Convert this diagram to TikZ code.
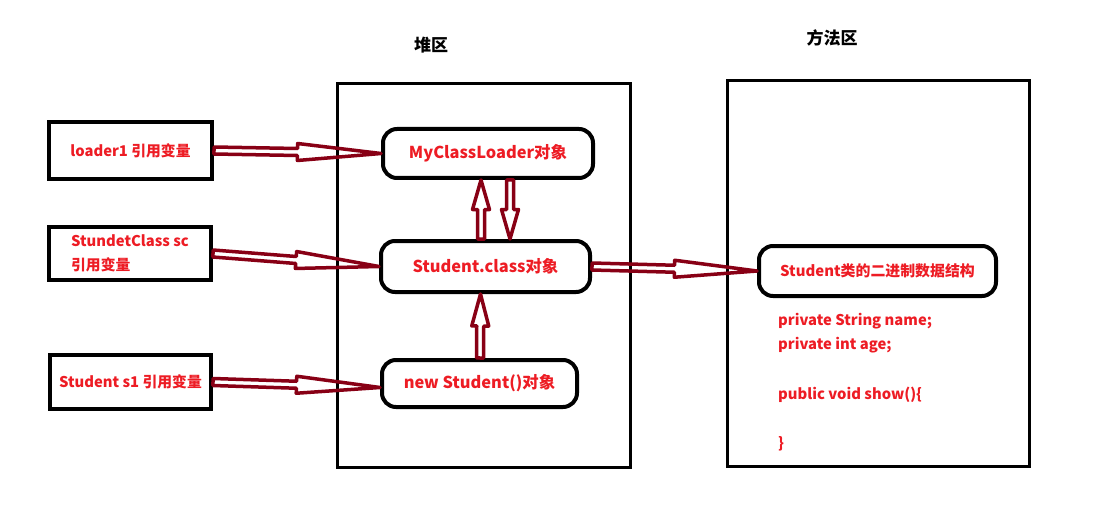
\documentclass[tikz,border=0pt]{standalone}
\usepackage{fontspec}
\usetikzlibrary{calc}
\newfontfamily\cjk{Noto Sans CJK SC}
\definecolor{txtred}{HTML}{ED1C24}
\definecolor{arrred}{HTML}{880015}
\tikzset{
  refbox/.style={draw=black, line width=4pt, rectangle, inner sep=0pt, font=\cjk\bfseries\fontsize{14.8}{24}\selectfont, text=txtred},
  areabox/.style={draw=black, line width=3.5pt, rectangle, inner sep=0pt},
  objbox/.style={draw=black, line width=4pt, rectangle, rounded corners=14pt, inner sep=0pt, font=\cjk\bfseries\fontsize{16.4}{20}\selectfont, text=txtred},
  codetxt/.style={anchor=west, inner sep=0pt, font=\cjk\bfseries\fontsize{14.8}{17}\selectfont, text=txtred},
  areatitle/.style={inner sep=0pt, font=\cjk\bfseries\fontsize{17}{20}\selectfont, text=black},
  blockarrow/.style={draw=arrred, line width=3.5pt, line join=round}
}
\newcommand\barrow[2]{%
  \coordinate (bm) at ($(#1)!0.5!(#2)$);
  \draw[blockarrow] ($(#1)!3.5pt!90:(#2)$) -- ($(bm)!3.5pt!90:(#2)$) -- ($(bm)!8.5pt!90:(#2)$) -- (#2) -- ($(bm)!8.5pt!-90:(#2)$) -- ($(bm)!3.5pt!-90:(#2)$) -- ($(#1)!3.5pt!-90:(#2)$) -- cycle;}
\begin{document}
\begin{tikzpicture}[x=1pt,y=-1pt]
\useasboundingbox (0,0) rectangle (1101,516);
% areas
\node[areabox, minimum width=293pt, minimum height=384pt] (heap) at (484,275.5) {};
\node[areabox, minimum width=302pt, minimum height=386pt] (meth) at (878.5,273.5) {};
\node[areatitle] (heapt) at (431,45) {堆区};
\node[areatitle] (metht) at (832,38) {方法区};
% reference boxes
\node[refbox, minimum width=163pt, minimum height=57pt] (v1) at (130.5,150.5) {loader1 引用变量};
\node[refbox, minimum width=162pt, minimum height=53pt, align=left] (v2) at (130,253.5) {StundetClass sc\\引用变量};
\node[refbox, minimum width=161pt, minimum height=54pt] (v3) at (130.5,382) {Student s1 引用变量};
% objects
\node[objbox, minimum width=210pt, minimum height=49pt] (mcl) at (488,153.5) {MyClassLoader对象};
\node[objbox, minimum width=209pt, minimum height=51pt] (sc) at (485.5,266.5) {Student.class对象};
\node[objbox, minimum width=195pt, minimum height=47pt] (ns) at (479.5,383.5) {new Student()对象};
\node[objbox, minimum width=237pt, minimum height=50pt, font=\cjk\bfseries\fontsize{14.9}{18}\selectfont] (sb) at (877.5,271) {Student类的二进制数据结构};
% code
\node[codetxt] (c1) at (778,321) {private String name;};
\node[codetxt] (c2) at (778,345) {private int age;};
\node[codetxt] (c3) at (778,395) {public void show()\{};
\node[codetxt] (c4) at (778,444) {\}};
% arrows
\barrow{v1.east}{mcl.west}
\barrow{v2.east}{sc.west}
\coordinate (nsin) at ($(ns.west)+(0,4)$);
\barrow{v3.east}{nsin}
\barrow{sc.east}{sb.west}
\coordinate (upa) at ($(sc.north)+(-4.5,0)$);
\coordinate (upb) at ($(mcl.south)+(-7,0)$);
\barrow{upa}{upb}
\coordinate (dna) at ($(mcl.south)+(22,0)$);
\coordinate (dnb) at ($(sc.north)+(24.5,0)$);
\barrow{dna}{dnb}
\coordinate (up2a) at ($(ns.north)+(0.5,0)$);
\coordinate (up2b) at ($(sc.south)+(-5,0)$);
\barrow{up2a}{up2b}
\end{tikzpicture}
\end{document}
